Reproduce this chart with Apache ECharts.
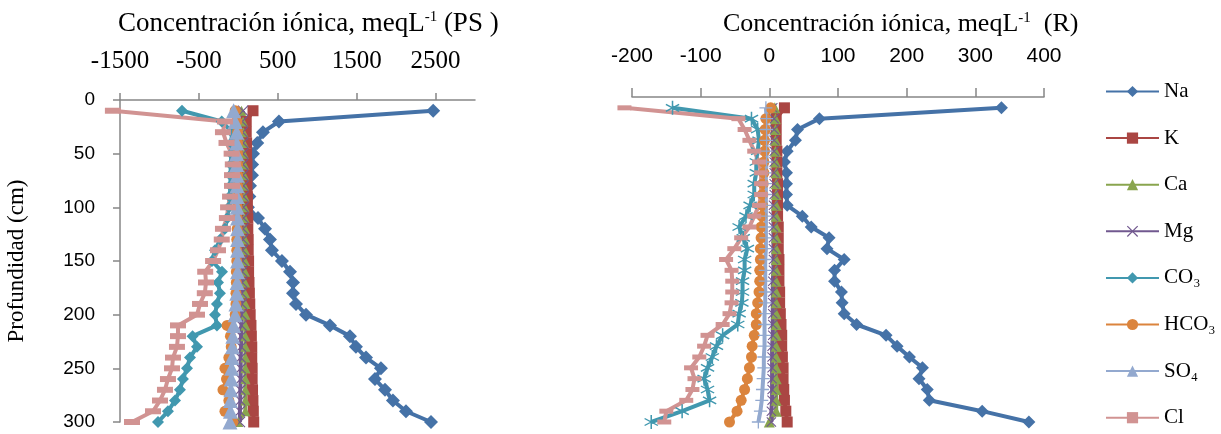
<!DOCTYPE html>
<html>
<head>
<meta charset="utf-8">
<script src="https://cdn.jsdelivr.net/npm/echarts@6/dist/echarts.min.js"></script>
<style>
  html, body { margin: 0; padding: 0; background: #fff; }
  #chart { width: 1221px; height: 434px; }
</style>
</head>
<body>
<div id="chart"></div>
<script>
// profundidad (cm)
var depths = [10, 20, 30, 40, 50, 60, 70, 80, 90, 100, 110, 120, 130, 140, 150,
  160, 170, 180, 190, 200, 210, 220, 230, 240, 250, 260, 270, 280, 290, 300]

// panel PS
var psNa = [2470, 515, 312, 240, 186, 175, 173, 148, 140, 122, 249, 338, 401, 426, 553,
  655, 693, 693, 731, 858, 1162, 1415, 1491, 1618, 1808, 1732, 1859, 1960, 2125, 2442]
var psK = [186, 100, 100, 105, 105, 110, 110, 110, 115, 115, 120, 120, 125, 125, 130,
  130, 135, 140, 145, 150, 160, 165, 170, 170, 175, 175, 180, 185, 190, 195]
var psCa = [40, 60, 65, 70, 70, 75, 75, 75, 80, 80, 80, 85, 85, 85, 85,
  85, 85, 85, 90, 90, 90, 90, 90, 90, 90, 90, 90, 90, 90, 0]
var psMg = [60, 50, 55, 60, 60, 60, 60, 65, 65, 65, 65, 60, 60, 55, 55,
  50, 50, 45, 45, 40, 40, 35, 35, 30, 30, 30, 25, 25, 20, 20]
var psCO3 = [-714, -210, -80, -90, -90, -95, -100, -100, -110, -120, -140, -170, -230, -296, -334,
  -207, -258, -233, -271, -296, -271, -580, -524, -613, -651, -702, -740, -803, -892, -1018]
var psHCO3 = [-40, -20, -10, -10, -10, -10, -10, -10, -10, -15, -15, -15, -20, -20, -20,
  -25, -25, -30, -30, -40, -142, -100, -90, -120, -170, -150, -195, -120, -170, -70]
var psSO4 = [-60, -40, -20, -20, -20, -20, -15, -15, -15, -15, -10, -10, -10, -10, -10,
  -10, -15, -20, -30, -40, -60, -70, -75, -80, -85, -90, -95, -100, -100, -106]
var psCl = [-1590, -170, -195, -150, -85, -70, -80, -80, -105, -130, -145, -195, -210, -258, -320,
  -420, -410, -425, -486, -524, -765, -765, -778, -828, -841, -892, -930, -993, -1082, -1348]

// panel R
var rNa = [338, 73, 41, 38, 26, 22, 25, 25, 25, 26, 48, 61, 87, 84, 109,
  95, 95, 105, 106, 109, 127, 170, 186, 204, 223, 218, 230, 233, 310, 378]
var rK = [22, 10, 10, 10, 11, 11, 11, 12, 12, 12, 12, 13, 13, 13, 14,
  14, 14, 15, 15, 16, 17, 18, 18, 19, 20, 20, 21, 22, 24, 26]
var rCa = [8, 9, 9, 9, 9, 9, 10, 10, 10, 10, 10, 10, 10, 10, 10,
  10, 10, 10, 10, 10, 10, 10, 10, 10, 10, 10, 10, 10, 10, 0]
var rMg = [5, 7, 7, 7, 7, 7, 7, 7, 7, 6, 6, 6, 6, 6, 6,
  6, 5, 5, 5, 5, 5, 5, 4, 4, 4, 4, 4, 4, 3, 3]
var rCO3 = [-141, -26, -17, -15, -17, -19, -19, -22, -22, -28, -34, -44, -38, -32, -36,
  -36, -39, -39, -40, -44, -46, -68, -77, -83, -90, -95, -90, -87, -127, -172]
var rHCO3 = [2, -5, -6, -7, -7, -8, -8, -9, -10, -10, -11, -12, -12, -13, -13,
  -14, -14, -15, -17, -19, -19, -22, -25, -26, -29, -32, -36, -41, -47, -58]
var rSO4 = [-5, -4, -4, -4, -4, -4, -5, -5, -5, -5, -5, -5, -5, -5, -6,
  -6, -6, -6, -6, -7, -7, -7, -7, -8, -8, -9, -10, -11, -13, -16]
var rCl = [-211, -45, -36, -29, -22, -15, -12, -12, -12, -15, -22, -29, -41, -51, -63,
  -55, -54, -54, -55, -58, -68, -90, -95, -102, -114, -109, -112, -121, -150, -153]

var ionNames = ['Na', 'K', 'Ca', 'Mg', 'CO₃', 'HCO₃', 'SO₄', 'Cl']
var ionColors = ['#4572A7', '#AA4643', '#89A54E', '#71588F', '#4198AF', '#DB843D', '#93A9CF', '#D19392']

var serif = 'Liberation Serif'
var sans = 'Liberation Sans'

// marcadores de Excel
var asterisk = 'path://M9,0L11,0L11,20L9,20Z M0.84,5.87L1.84,4.13L19.16,14.13L18.16,15.87Z M1.84,15.87L0.84,14.13L18.16,4.13L19.16,5.87Z'
var cross = 'path://M0,1.5L1.5,0L20,18.5L18.5,20Z M18.5,0L20,1.5L1.5,20L0,18.5Z'
var plus = 'path://M9,0L11,0L11,20L9,20Z M0,9L20,9L20,11L0,11Z'

var psSymbols = [
  ['diamond', 14], ['rect', 11], ['triangle', 10], [cross, 11],
  ['diamond', 12], ['circle', 11], ['triangle', 15], ['rect', [16, 6]]
]
var rSymbols = [
  ['diamond', 13], ['rect', 11], ['triangle', 11], [cross, 10],
  [asterisk, 14], ['circle', 11], [plus, 13], ['rect', [14, 5]]
]

function makeSeries(vals, i, idx, syms) {
  return {
    name: ionNames[i],
    type: 'line',
    xAxisIndex: idx,
    yAxisIndex: idx,
    data: depths.map(function (d, k) { return [vals[k], d] }),
    symbol: syms[i][0],
    symbolSize: syms[i][1],
    clip: false,
    animation: false,
    lineStyle: { color: ionColors[i], width: 4 },
    itemStyle: { color: ionColors[i] }
  }
}

var psData = [psNa, psK, psCa, psMg, psCO3, psHCO3, psSO4, psCl]
var rData = [rNa, rK, rCa, rMg, rCO3, rHCO3, rSO4, rCl]
var series = []
psData.forEach(function (v, i) { series.push(makeSeries(v, i, 0, psSymbols)) })
rData.forEach(function (v, i) { series.push(makeSeries(v, i, 1, rSymbols)) })

var axisGray = '#868686'

var chart = echarts.init(document.getElementById('chart'))
chart.setOption({
  backgroundColor: '#fff',
  title: [
    {
      left: 113, top: 5,
      text: 'Concentración iónica, meqL{sup|-1} (PS )',
      textStyle: {
        fontFamily: serif, fontSize: 27, fontWeight: 'normal', color: '#000',
        rich: { sup: { fontFamily: serif, fontSize: 15, verticalAlign: 'top', color: '#000' } }
      }
    },
    {
      left: 718, top: 6,
      text: 'Concentración iónica, meqL{sup|-1}  (R)',
      textStyle: {
        fontFamily: serif, fontSize: 26, fontWeight: 'normal', color: '#000',
        rich: { sup: { fontFamily: serif, fontSize: 15, verticalAlign: 'top', color: '#000' } }
      }
    }
  ],
  legend: {
    orient: 'vertical',
    left: 1105,
    top: 79,
    padding: 0,
    itemWidth: 53,
    itemHeight: 14,
    itemGap: 21.6,
    data: ionNames,
    textStyle: { fontFamily: serif, fontSize: 21, color: '#000', lineHeight: 25 }
  },
  grid: [
    { left: 120, top: 100, width: 355, height: 322, containLabel: false },
    { left: 632, top: 97, width: 412, height: 325, containLabel: false }
  ],
  xAxis: [
    {
      gridIndex: 0, type: 'value', position: 'top',
      min: -1500, max: 3000, interval: 1000,
      axisLine: { onZero: false, lineStyle: { color: axisGray, width: 1.5 } },
      axisTick: { length: 7, lineStyle: { color: axisGray, width: 1.5 } },
      axisLabel: {
        fontFamily: serif, fontSize: 25, color: '#000', margin: 26, showMaxLabel: false,
        formatter: function (v) { return String(v) }
      },
      splitLine: { show: false }
    },
    {
      gridIndex: 1, type: 'value', position: 'top',
      min: -200, max: 400, interval: 100,
      axisLine: { onZero: false, lineStyle: { color: axisGray, width: 1.5 } },
      axisTick: { length: 9, lineStyle: { color: axisGray, width: 1.5 } },
      axisLabel: { fontFamily: sans, fontSize: 21, color: '#000', margin: 30 },
      splitLine: { show: false }
    }
  ],
  yAxis: [
    {
      gridIndex: 0, type: 'value', inverse: true,
      min: 0, max: 300, interval: 50,
      name: 'Profundidad (cm)', nameLocation: 'middle', nameGap: 92,
      nameTextStyle: { fontFamily: serif, fontSize: 23, color: '#000' },
      axisLine: { show: true, onZero: false, lineStyle: { color: axisGray, width: 1.5 } },
      axisTick: { show: true, length: 7, lineStyle: { color: axisGray, width: 1.5 } },
      axisLabel: { fontFamily: sans, fontSize: 19, color: '#000', margin: 25 },
      splitLine: { show: false }
    },
    {
      gridIndex: 1, type: 'value', inverse: true,
      min: 0, max: 300, show: false,
      splitLine: { show: false }
    }
  ],
  series: series
})
</script>
</body>
</html>
